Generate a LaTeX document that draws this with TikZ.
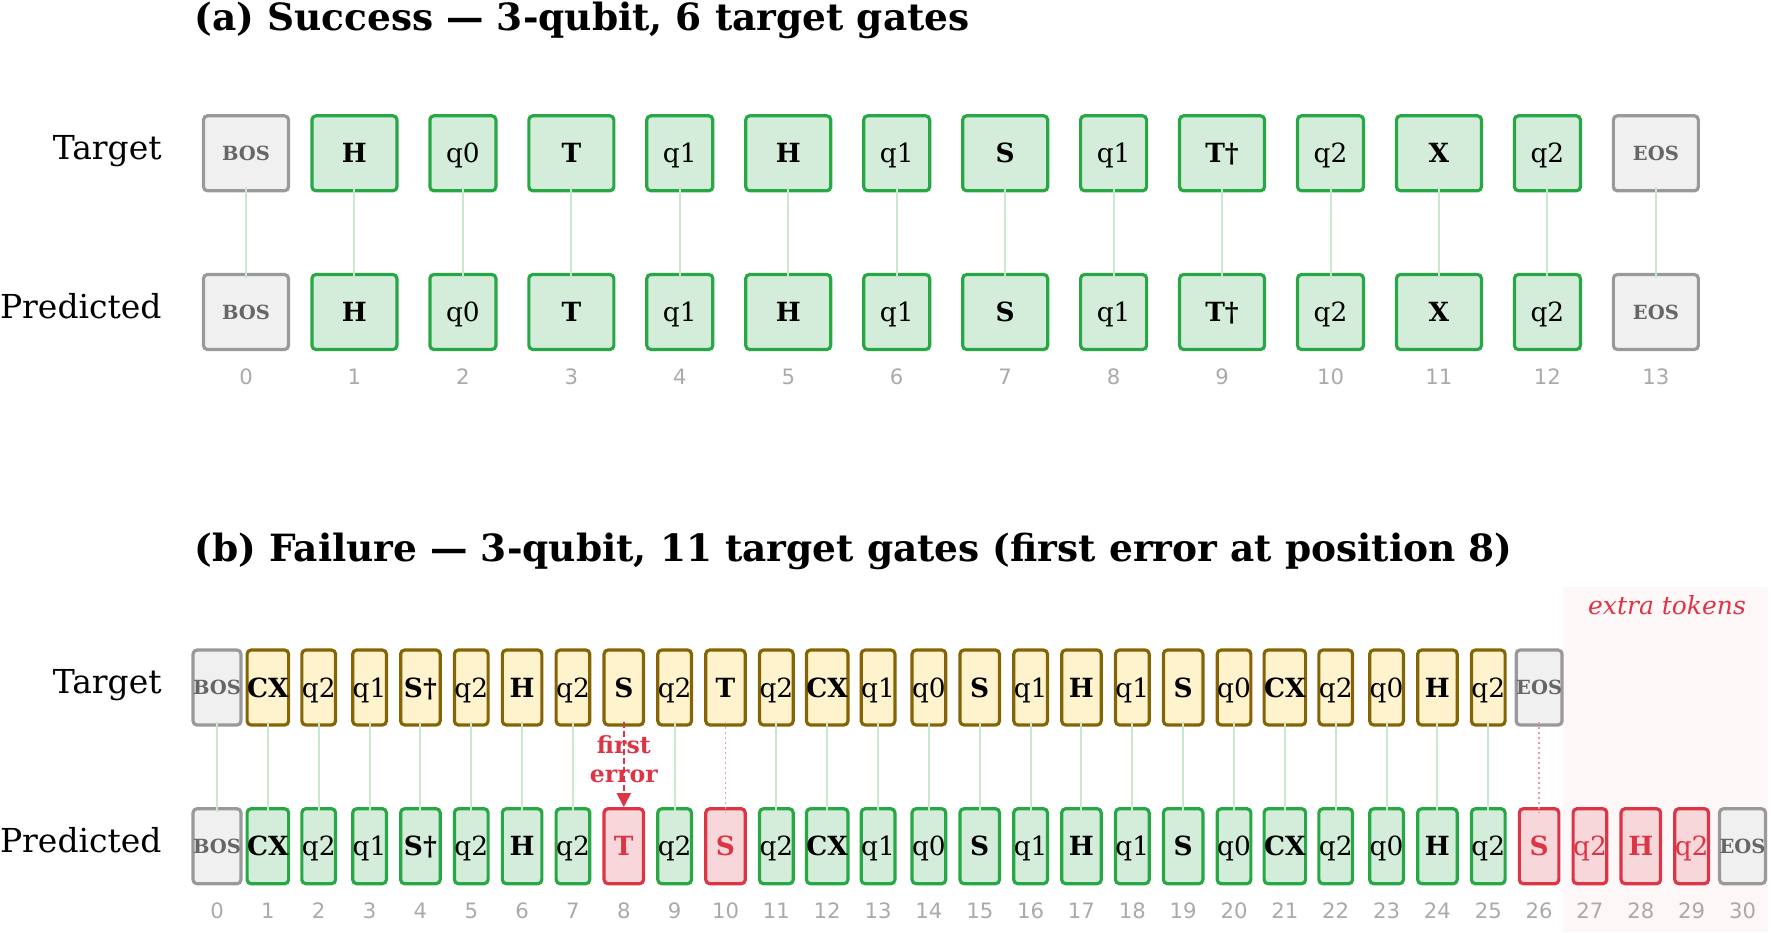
\documentclass[tikz,border=0pt]{standalone}
\usepackage{fontspec}
\setmainfont{DejaVu Serif}
\newfontfamily\numfont{DejaVu Sans}
\usetikzlibrary{arrows.meta}
\definecolor{okfill}{HTML}{D4EDDA}
\definecolor{okdraw}{HTML}{28A745}
\definecolor{tgfill}{HTML}{FFF3CD}
\definecolor{tgdraw}{HTML}{856404}
\definecolor{badfill}{HTML}{F8D7DA}
\definecolor{baddraw}{HTML}{DC3545}
\definecolor{spfill}{HTML}{F0F0F0}
\definecolor{spdraw}{HTML}{999999}
\definecolor{sptext}{HTML}{666666}
\definecolor{numgray}{HTML}{AAAAAA}
\definecolor{linkgreen}{HTML}{C8E8CF}
\definecolor{dotred}{HTML}{EE9AA3}
\definecolor{shadered}{HTML}{FDF7F7}
\tikzset{
 tok/.style={draw, rounded corners=2pt, line width=1.6pt, inner sep=0pt, minimum height=37.5pt},
 gA/.style={tok, minimum width=42.5pt},
 qA/.style={tok, minimum width=33pt},
 gB/.style={tok, minimum width=19.75pt},
 qB/.style={tok, minimum width=15.2pt},
 okc/.style={fill=okfill, draw=okdraw},
 tgc/.style={fill=tgfill, draw=tgdraw},
 badc/.style={fill=badfill, draw=baddraw, text=baddraw},
 spc/.style={fill=spfill, draw=spdraw, text=sptext, font=\fontsize{9.75}{11}\selectfont\bfseries, text height=7.1pt, text depth=0pt},
 gf/.style={font=\fontsize{13.2}{15}\selectfont\bfseries, text height=9.6pt, text depth=0pt},
 qf/.style={font=\fontsize{13.2}{15}\selectfont, text height=9.6pt, text depth=0pt},
 num/.style={font=\numfont\fontsize{10.6}{12}\selectfont, text=numgray, anchor=base, inner sep=0pt},
 rowlab/.style={font=\fontsize{16.5}{19}\selectfont, anchor=base east, inner sep=0pt},
 ttl/.style={font=\fontsize{18.75}{22}\selectfont\bfseries, anchor=base west, inner sep=0pt},
 link/.style={draw=linkgreen, line width=1pt},
 mislink/.style={draw=dotred, line width=0.9pt, dash pattern=on 1pt off 1.5pt},
 errarrow/.style={draw=baddraw, line width=1pt, dash pattern=on 3pt off 1.5pt, -{Triangle[length=7pt,width=7pt,fill=baddraw]}},
 errtext/.style={font=\fontsize{11.8}{14.2}\selectfont\bfseries, text=baddraw, align=center},
 extratext/.style={font=\fontsize{12.5}{14}\selectfont\itshape, text=baddraw, anchor=base, inner sep=0pt},
}
\begin{document}
\begin{tikzpicture}[x=0.5pt,y=-0.5pt]
\useasboundingbox (0,0) rectangle (1771,932);
% shaded region for extra tokens
\fill[shadered] (1563,587) rectangle (1768,932);
\node[extratext] (extra) at (1667,614) {extra tokens};

% ---------------- panel (a)
\node[ttl] (ttla) at (194,30.5) {(a) Success — 3-qubit, 6 target gates};
\node[rowlab] (labta) at (162,159.3) {Target};
\node[rowlab] (labpa) at (162,318) {Predicted};
\foreach \i/\t in {0/BOS,13/EOS} {
  \node[gA,spc] (ta\i) at ({246+108.45*\i},153.3) {\t};
  \node[gA,spc] (pa\i) at ({246+108.45*\i},312) {\t};
}
\foreach \i/\t in {1/H,3/T,5/H,7/S,9/T†,11/X} {
  \node[gA,okc,gf] (ta\i) at ({246+108.45*\i},153.3) {\t};
  \node[gA,okc,gf] (pa\i) at ({246+108.45*\i},312) {\t};
}
\foreach \i/\t in {2/q0,4/q1,6/q1,8/q1,10/q2,12/q2} {
  \node[qA,okc,qf] (ta\i) at ({246+108.45*\i},153.3) {\t};
  \node[qA,okc,qf] (pa\i) at ({246+108.45*\i},312) {\t};
}
\foreach \i in {0,...,13} {
  \draw[link] ([yshift=2.5pt]ta\i.south) -- ([yshift=-2.5pt]pa\i.north);
  \node[num] (na\i) at ({246+108.45*\i},384.5) {\i};
}

% ---------------- panel (b)
\node[ttl] (ttlb) at (194,561) {(b) Failure — 3-qubit, 11 target gates (first error at position 8)};
\node[rowlab] (labtb) at (162,693.5) {Target};
\node[rowlab] (labpb) at (162,852) {Predicted};
% target row
\foreach \i/\t in {0/BOS,26/EOS}
  \node[gB,spc] (tb\i) at ({217+50.85*\i},687.5) {\t};
\foreach \i/\t in {1/CX,4/S†,6/H,8/S,10/T,12/CX,15/S,17/H,19/S,21/CX,24/H}
  \node[gB,tgc,gf] (tb\i) at ({217+50.85*\i},687.5) {\t};
\foreach \i/\t in {2/q2,3/q1,5/q2,7/q2,9/q2,11/q2,13/q1,14/q0,16/q1,18/q1,20/q0,22/q2,23/q0,25/q2}
  \node[qB,tgc,qf] (tb\i) at ({217+50.85*\i},687.5) {\t};
% predicted row
\foreach \i/\t in {0/BOS,30/EOS}
  \node[gB,spc] (pb\i) at ({217+50.85*\i},846.2) {\t};
\foreach \i/\t in {1/CX,4/S†,6/H,12/CX,15/S,17/H,19/S,21/CX,24/H}
  \node[gB,okc,gf] (pb\i) at ({217+50.85*\i},846.2) {\t};
\foreach \i/\t in {2/q2,3/q1,5/q2,7/q2,9/q2,11/q2,13/q1,14/q0,16/q1,18/q1,20/q0,22/q2,23/q0,25/q2}
  \node[qB,okc,qf] (pb\i) at ({217+50.85*\i},846.2) {\t};
\foreach \i/\t in {8/T,10/S,26/S,28/H}
  \node[gB,badc,gf] (pb\i) at ({217+50.85*\i},846.2) {\t};
\foreach \i/\t in {27/q2,29/q2}
  \node[qB,badc,qf] (pb\i) at ({217+50.85*\i},846.2) {\t};
% connectors
\foreach \i in {0,...,7,9,11,12,...,25}
  \draw[link] ([yshift=2.5pt]tb\i.south) -- ([yshift=-2.5pt]pb\i.north);
\foreach \i in {10,26}
  \draw[mislink] ([yshift=2.5pt]tb\i.south) -- ([yshift=-2.5pt]pb\i.north);
\node[errtext] (errlab) at ({217+50.85*8},759) {first\\error};
\draw[errarrow] ([yshift=2.5pt]tb8.south) -- (pb8.north);
\foreach \i in {0,...,30}
  \node[num] (nb\i) at ({217+50.85*\i},918) {\i};
\end{tikzpicture}
\end{document}
